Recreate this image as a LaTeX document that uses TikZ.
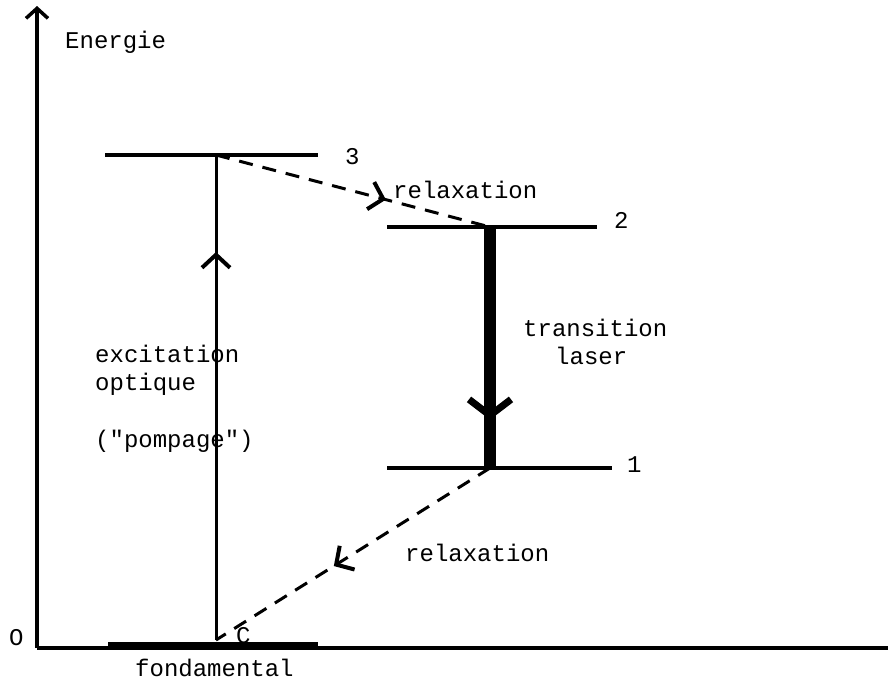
\documentclass[tikz,border=0pt]{standalone}
\usepackage{fontspec}
\setmonofont{Liberation Mono}
\usepackage{tikz}
\usetikzlibrary{arrows.meta,positioning,decorations.markings}
\tikzset{
  lvlline/.style={line width=3.5pt},
  axisline/.style={line width=3.5pt},
  lbl/.style={font=\ttfamily\fontsize{24}{28}\selectfont,inner sep=0pt,anchor=west,align=left},
  midarr/.style={postaction={decorate},decoration={markings,
    mark=at position #1 with {\arrow{Straight Barb[length=13pt,width=28pt,line width=4pt]}}}},
  relaxarr/.style={line width=3pt,dash pattern=on 14pt off 10pt},
  pumparr/.style={line width=3pt},
  laserarr/.style={line width=12pt}
}
\begin{document}
\begin{tikzpicture}[x=1pt,y=-1pt]
\useasboundingbox (0,0) rectangle (888,688);
% axes
\coordinate (orig) at (37,648);
\coordinate (ytop) at (37,6);
\coordinate (xend) at (888,648);
\draw[axisline,-{Straight Barb[length=10pt,width=22pt,line width=3.5pt]}] (orig) -- (ytop);
\draw[axisline] (orig) -- (xend);
\node[lbl] (energie) at (65,42) {Energie};
\node[lbl] (zero) at (9,638) {O};
% levels
\coordinate (g0l) at (108,645); \coordinate (g0r) at (318,645);
\coordinate (n3l) at (105,155); \coordinate (n3r) at (318,155);
\coordinate (n2l) at (387,227); \coordinate (n2r) at (597,227);
\coordinate (n1l) at (387,468); \coordinate (n1r) at (612,468);
\draw[line width=5.5pt] (g0l) -- (g0r);
\draw[lvlline] (n3l) -- (n3r);
\draw[lvlline] (n2l) -- (n2r);
\draw[lvlline] (n1l) -- (n1r);
\node[lbl] (lab3) at (345,157) {3};
\node[lbl] (lab2) at (614,220) {2};
\node[lbl] (lab1) at (627,465) {1};
\node[lbl] (lab0) at (236,636) {C};
\node[lbl] (fond) at (135,668) {fondamental};
% transitions
\coordinate (p0) at (216,640); \coordinate (p3) at (216,155);
\coordinate (p2) at (490,227); \coordinate (p1) at (490,468);
\draw[pumparr,midarr=0.8] (p0) -- (p3);
\draw[relaxarr,midarr=0.62] (p3) -- (p2);
\draw[laserarr,postaction={decorate},decoration={markings,
  mark=at position 0.8 with {\arrow{Straight Barb[length=16pt,width=42pt,line width=7pt]}}}] (p2) -- (p1);
\draw[relaxarr,midarr=0.57] (p1) -- (p0);
\node[lbl] (exc) at (95,354) {excitation};
\node[lbl] (opt) at (95,384) {optique};
\node[lbl] (pomp) at (95,441) {("pompage")};
\node[lbl] (rel1) at (393,190) {relaxation};
\node[lbl] (trans) at (523,328) {transition};
\node[lbl] (laser) at (555,356) {laser};
\node[lbl] (rel2) at (405,553) {relaxation};
\end{tikzpicture}
\end{document}
